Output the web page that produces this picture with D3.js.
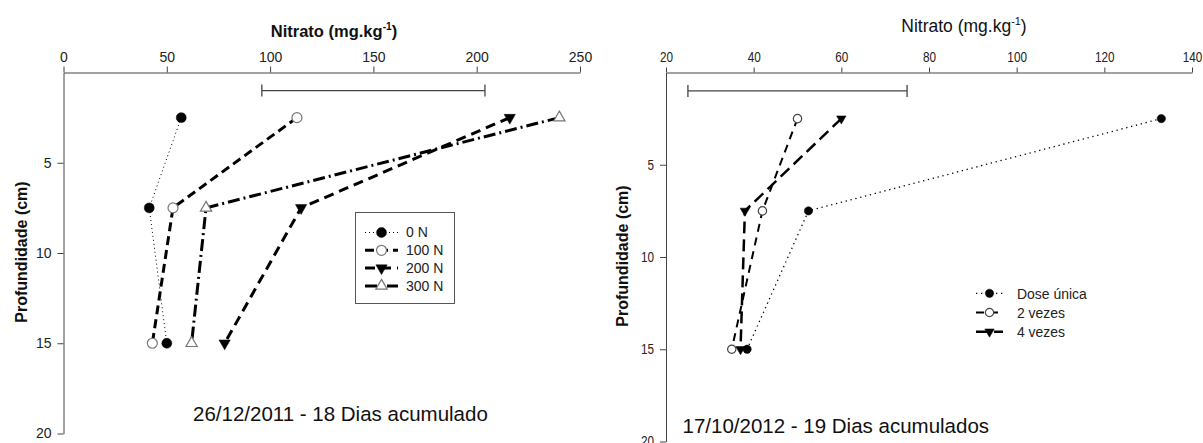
<!DOCTYPE html>
<html>
<head>
<meta charset="utf-8">
<script src="https://cdn.jsdelivr.net/npm/d3@7"></script>
<style>
  html, body { margin: 0; padding: 0; background: #fff; }
  svg { display: block; font-family: "Liberation Sans", Arial, sans-serif; }
</style>
</head>
<body>
<svg id="chart" width="1203" height="443"></svg>
<script>
// ---- data ----
const depths = [2.5, 7.5, 15];
const depthTicks = [5, 10, 15, 20];

// Left panel: 26/12/2011
const leftNames = ["0 N", "100 N", "200 N", "300 N"];
const n0 = [57, 41.5, 50];
const n100 = [113, 53, 43];
const n200 = [216, 115, 78];
const n300 = [240, 69, 62];
const leftTicks = [0, 50, 100, 150, 200, 250];
const leftBar = [96, 204];   // least significant difference bar
const leftBarDepth = 1;

// Right panel: 17/10/2012
const rightNames = ["Dose única", "2 vezes", "4 vezes"];
const doseUnica = [133, 52.5, 38.5];
const vezes2 = [50, 42, 35];
const vezes4 = [60, 38, 37];
const rightTicks = [20, 40, 60, 80, 100, 120, 140];
const rightBar = [25, 75];
const rightBarDepth = 1;

// ---- styles ----
const FONT = '"Liberation Sans", Arial, sans-serif';
const AXIS = "#444";
const styleLeft = {
  "0 N":   { dash: "1,3",        width: 1,   marker: "circle",   fill: "#000", stroke: "#000" },
  "100 N": { dash: "9,5",        width: 3,   marker: "circle",   fill: "#fff", stroke: "#777" },
  "200 N": { dash: "10,6",       width: 3,   marker: "down",     fill: "#000", stroke: "#000" },
  "300 N": { dash: "12,4,2,4",   width: 3,   marker: "up",       fill: "#fff", stroke: "#777" }
};
const styleRight = {
  "Dose única": { dash: "1.3,3.7", width: 1.3, marker: "circle", fill: "#000", stroke: "#000" },
  "2 vezes":    { dash: "8,6",     width: 2,   marker: "circle", fill: "#fff", stroke: "#444" },
  "4 vezes":    { dash: "12,6",    width: 2.5, marker: "down",   fill: "#000", stroke: "#000" }
};

const svg = d3.select("#chart");

function markerPath(kind, scale) {
  if (kind === "circle") return d3.symbol(d3.symbolCircle, 78 * scale)();
  return d3.symbol(d3.symbolTriangle, 55 * scale)();
}

function drawMarker(g, kind, st, x, y, scale) {
  g.append("path")
    .attr("d", markerPath(kind, scale))
    .attr("transform", `translate(${x},${y})` + (kind === "down" ? " rotate(180)" : ""))
    .attr("fill", st.fill)
    .attr("stroke", st.stroke)
    .attr("stroke-width", st.fill === "#fff" ? 1.2 : 0.5);
}

function styleTickText(sel, opts) {
  sel.attr("font-family", FONT).attr("font-size", opts.tickSizePx).attr("fill", "#222");
  if (opts.tickScaleX !== 1) {
    sel.each(function () {
      const t = d3.select(this);
      const tx = +t.attr("x") || 0;
      t.attr("x", tx / opts.tickScaleX).attr("transform", `scale(${opts.tickScaleX},1)`);
    });
  }
}

function panel(opts) {
  const x = d3.scaleLinear().domain(opts.xDomain).range(opts.xRange);
  const y = d3.scaleLinear().domain([0, 20]).range(opts.yRange);
  const g = svg.append("g");

  // top axis
  const ax = g.append("g")
    .attr("transform", `translate(0,${y(0)})`)
    .call(d3.axisTop(x).tickValues(opts.xTicks).tickSize(opts.tickSize)
      .tickSizeOuter(0).tickPadding(opts.tickPad));
  ax.select(".domain").attr("stroke", AXIS);
  ax.selectAll(".tick line").attr("stroke", AXIS);
  styleTickText(ax.selectAll(".tick text"), opts);

  // left axis
  const ay = g.append("g")
    .attr("transform", `translate(${x(opts.xDomain[0])},0)`)
    .call(d3.axisLeft(y).tickValues(depthTicks).tickSize(6).tickSizeOuter(0).tickPadding(6));
  ay.select(".domain").attr("stroke", AXIS);
  ay.selectAll(".tick line").attr("stroke", AXIS);
  styleTickText(ay.selectAll(".tick text"), opts);

  // title above the top axis
  const t = g.append("text")
    .attr("x", opts.titleX).attr("y", opts.titleY)
    .attr("text-anchor", "middle")
    .attr("font-family", FONT)
    .attr("font-size", opts.titleSize)
    .attr("font-weight", opts.titleWeight)
    .attr("fill", "#111");
  t.append("tspan").text(opts.titleText);
  t.append("tspan").text("-1").attr("font-size", opts.titleSize * 0.62).attr("dy", -opts.titleSize * 0.4);
  t.append("tspan").text(")").attr("dy", opts.titleSize * 0.4);

  // depth label
  g.append("text")
    .attr("transform", `translate(${opts.yLabelX},${opts.yLabelY}) rotate(-90)`)
    .attr("text-anchor", "middle")
    .attr("font-family", FONT)
    .attr("font-size", 16)
    .attr("font-weight", "bold")
    .attr("fill", "#111")
    .text("Profundidade (cm)");

  // LSD bar
  const by = y(opts.barDepth);
  g.append("line").attr("x1", x(opts.bar[0])).attr("x2", x(opts.bar[1]))
    .attr("y1", by).attr("y2", by).attr("stroke", AXIS).attr("stroke-width", 1.3);
  opts.bar.forEach(v => {
    g.append("line").attr("x1", x(v)).attr("x2", x(v))
      .attr("y1", by - 6).attr("y2", by + 6).attr("stroke", AXIS).attr("stroke-width", 1.3);
  });

  // series
  const line = d3.line().x(d => x(d[0])).y(d => y(d[1]));
  opts.series.forEach(s => {
    const st = opts.styles[s.name];
    const pts = s.values.map((v, i) => [v, depths[i]]);
    g.append("path")
      .attr("d", line(pts))
      .attr("fill", "none")
      .attr("stroke", "#000")
      .attr("stroke-width", st.width)
      .attr("stroke-dasharray", st.dash);
  });
  opts.series.forEach(s => {
    const st = opts.styles[s.name];
    s.values.forEach((v, i) => drawMarker(g, st.marker, st, x(v), y(depths[i]), opts.markerScale));
  });

  // legend
  const L = opts.legend;
  if (L.box) {
    g.append("rect").attr("x", L.box[0]).attr("y", L.box[1])
      .attr("width", L.box[2]).attr("height", L.box[3])
      .attr("fill", "#fff").attr("stroke", "#555").attr("stroke-width", 1);
  }
  opts.series.forEach((s, i) => {
    const st = opts.styles[s.name];
    const ry = L.y0 + i * L.dy;
    g.append("line").attr("x1", L.x0).attr("x2", L.x1).attr("y1", ry).attr("y2", ry)
      .attr("stroke", "#000").attr("stroke-width", st.width).attr("stroke-dasharray", st.dash);
    drawMarker(g, st.marker, st, (L.x0 + L.x1) / 2, ry, opts.markerScale);
    g.append("text").attr("x", L.tx / L.scaleX).attr("y", ry).attr("dy", "0.35em")
      .attr("transform", `scale(${L.scaleX},1)`)
      .attr("font-family", FONT).attr("font-size", L.font).attr("fill", "#222")
      .text(s.name);
  });

  // date caption
  g.append("text")
    .attr("x", opts.capX).attr("y", opts.capY)
    .attr("font-family", FONT).attr("font-size", opts.capSize).attr("fill", "#111")
    .text(opts.caption);
}

panel({
  xDomain: [0, 250], xRange: [63.5, 580], yRange: [72.5, 433.5],
  xTicks: leftTicks, tickSize: 6, tickPad: 5, tickSizePx: 14, tickScaleX: 1,
  titleText: "Nitrato (mg.kg", titleX: 334, titleY: 37, titleSize: 16.5, titleWeight: "bold",
  yLabelX: 27, yLabelY: 252,
  bar: leftBar, barDepth: leftBarDepth,
  series: [
    { name: leftNames[0], values: n0 },
    { name: leftNames[1], values: n100 },
    { name: leftNames[2], values: n200 },
    { name: leftNames[3], values: n300 }
  ],
  styles: styleLeft, markerScale: 1,
  legend: { box: [355.5, 212.5, 99, 91], x0: 365, x1: 398, y0: 232.5, dy: 17.8, tx: 406, font: 14, scaleX: 1 },
  caption: "26/12/2011 - 18 Dias acumulado", capX: 193, capY: 421, capSize: 20.5
});

panel({
  xDomain: [20, 140], xRange: [666, 1192], yRange: [72.5, 441.5],
  xTicks: rightTicks, tickSize: 5, tickPad: 6, tickSizePx: 14, tickScaleX: 0.84,
  titleText: "Nitrato  (mg.kg", titleX: 964, titleY: 31.5, titleSize: 17.5, titleWeight: "normal",
  yLabelX: 628, yLabelY: 256,
  bar: rightBar, barDepth: rightBarDepth,
  series: [
    { name: rightNames[0], values: doseUnica },
    { name: rightNames[1], values: vezes2 },
    { name: rightNames[2], values: vezes4 }
  ],
  styles: styleRight, markerScale: 0.7,
  legend: { box: null, x0: 976, x1: 1003, y0: 293.3, dy: 19.2, tx: 1017, font: 15.5, scaleX: 0.9 },
  caption: "17/10/2012 - 19 Dias acumulados", capX: 682.5, capY: 433, capSize: 20.5
});
</script>
</body>
</html>
